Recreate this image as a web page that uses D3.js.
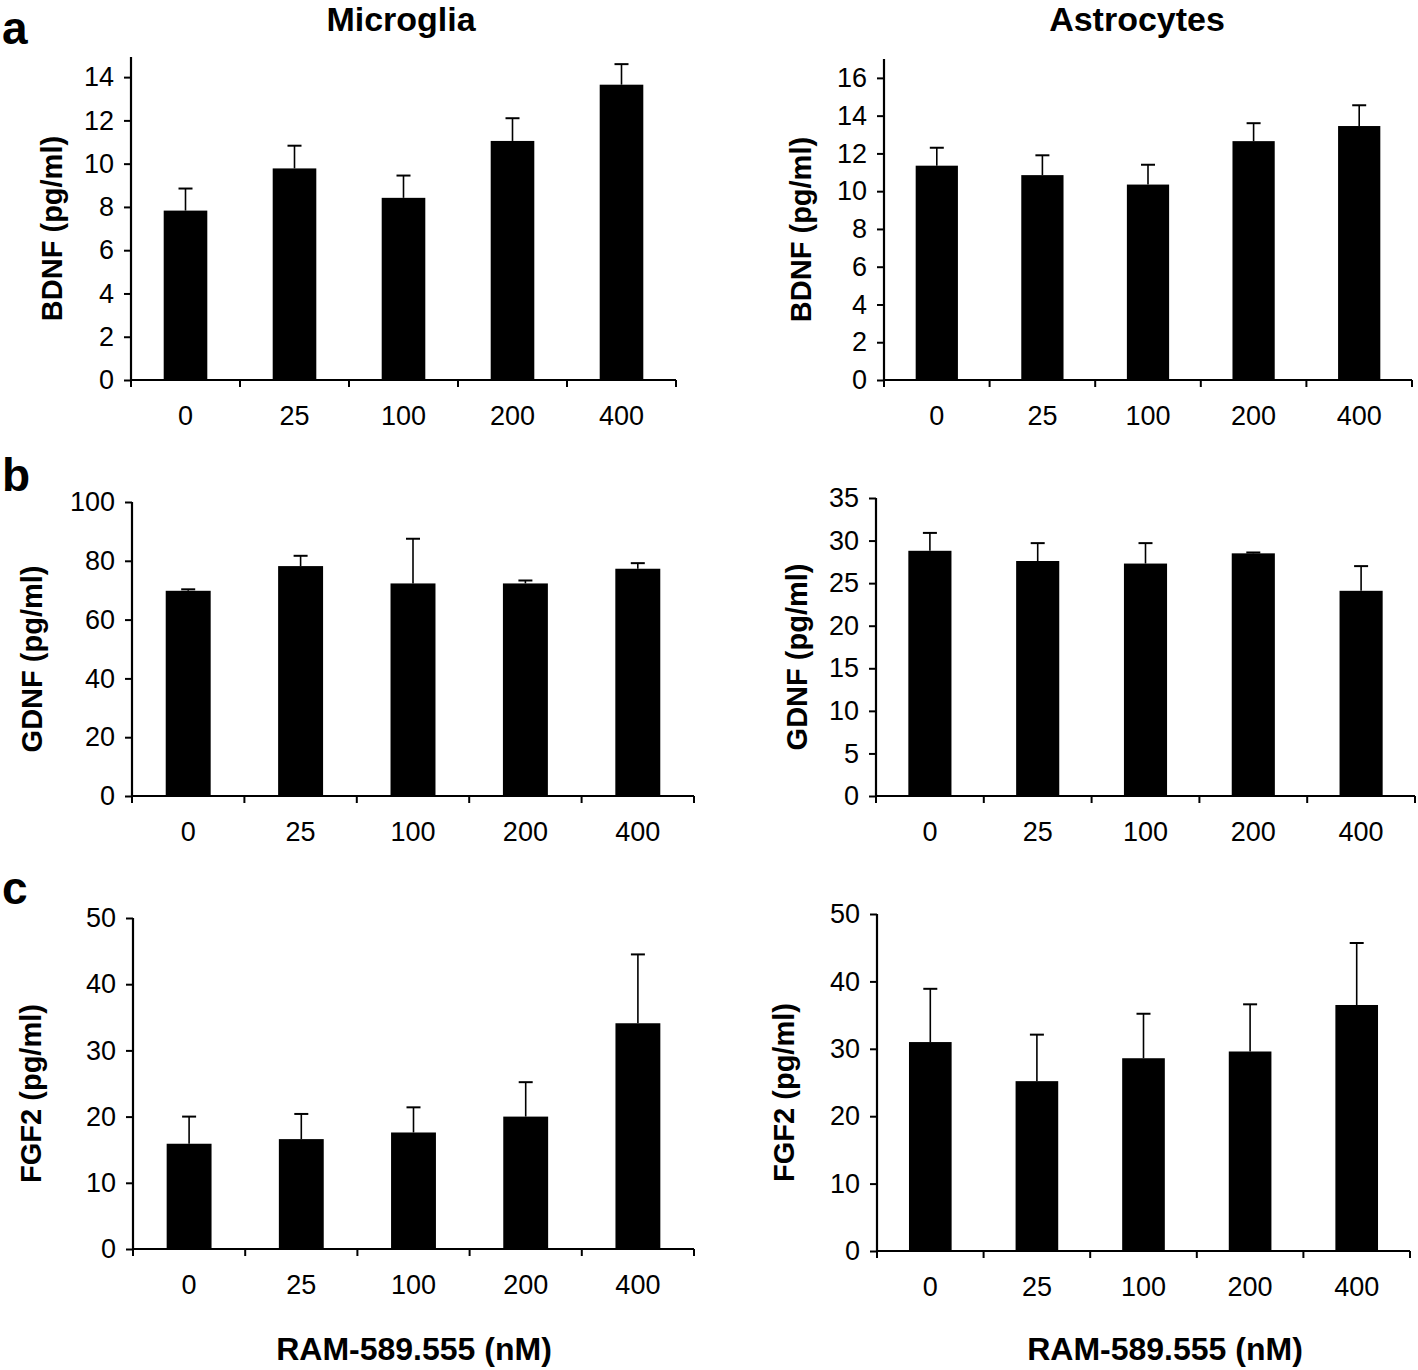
<!DOCTYPE html>
<html>
<head>
<meta charset="utf-8">
<script src="https://cdn.jsdelivr.net/npm/d3@7"></script>
<style>
  html, body { margin: 0; padding: 0; background: #fff; }
  svg { display: block; font-family: "Liberation Sans", Arial, Helvetica, sans-serif; }
</style>
</head>
<body>
<svg id="chart" width="1418" height="1370"></svg>
<script>
// ---- data ----
const categories = ["0", "25", "100", "200", "400"];

const bdnfMicroglia      = [7.83, 9.78, 8.42, 11.05, 13.65];
const bdnfMicrogliaErr   = [1.02, 1.05, 1.03, 1.05, 0.95];
const bdnfAstrocytes     = [11.35, 10.85, 10.35, 12.65, 13.45];
const bdnfAstrocytesErr  = [0.95, 1.05, 1.05, 0.95, 1.1];

const gdnfMicroglia      = [69.8, 78.2, 72.3, 72.3, 77.3];
const gdnfMicrogliaErr   = [0.5, 3.5, 15.2, 1.0, 1.9];
const gdnfAstrocytes     = [28.8, 27.6, 27.3, 28.5, 24.1];
const gdnfAstrocytesErr  = [2.1, 2.1, 2.4, 0.1, 2.9];

const fgf2Microglia      = [15.9, 16.6, 17.6, 20.0, 34.1];
const fgf2MicrogliaErr   = [4.1, 3.8, 3.8, 5.2, 10.4];
const fgf2Astrocytes     = [31.0, 25.2, 28.6, 29.6, 36.5];
const fgf2AstrocytesErr  = [7.9, 6.9, 6.6, 7.0, 9.2];

const bdnfMicrogliaTicks  = [0, 2, 4, 6, 8, 10, 12, 14];
const bdnfAstrocytesTicks = [0, 2, 4, 6, 8, 10, 12, 14, 16];
const gdnfMicrogliaTicks  = [0, 20, 40, 60, 80, 100];
const gdnfAstrocytesTicks = [0, 5, 10, 15, 20, 25, 30, 35];
const fgf2Ticks           = [0, 10, 20, 30, 40, 50];

const columnTitles = ["Microglia", "Astrocytes"];
const panelLetters = ["a", "b", "c"];
const xAxisTitle = "RAM-589.555 (nM)";

// ---- layout (positions only) ----
const panels = [
  { values: bdnfMicroglia, errs: bdnfMicrogliaErr, ticks: bdnfMicrogliaTicks, max: 14.93,
    left: 131, right: 676, bottom: 380, top: 57, label: "BDNF (pg/ml)", labelX: 52 },
  { values: bdnfAstrocytes, errs: bdnfAstrocytesErr, ticks: bdnfAstrocytesTicks, max: 17,
    left: 884, right: 1412, bottom: 380, top: 59, label: "BDNF (pg/ml)", labelX: 801 },
  { values: gdnfMicroglia, errs: gdnfMicrogliaErr, ticks: gdnfMicrogliaTicks, max: 100,
    left: 132, right: 694, bottom: 796, top: 502, label: "GDNF (pg/ml)", labelX: 32 },
  { values: gdnfAstrocytes, errs: gdnfAstrocytesErr, ticks: gdnfAstrocytesTicks, max: 35,
    left: 876, right: 1415, bottom: 796, top: 498, label: "GDNF (pg/ml)", labelX: 797 },
  { values: fgf2Microglia, errs: fgf2MicrogliaErr, ticks: fgf2Ticks, max: 50,
    left: 133, right: 694, bottom: 1249, top: 918, label: "FGF2 (pg/ml)", labelX: 31 },
  { values: fgf2Astrocytes, errs: fgf2AstrocytesErr, ticks: fgf2Ticks, max: 50,
    left: 877, right: 1410, bottom: 1251, top: 914, label: "FGF2 (pg/ml)", labelX: 784 }
];

const svg = d3.select("#chart");

panels.forEach(p => {
  const g = svg.append("g");
  const x = d3.scaleBand().domain(categories).range([p.left, p.right])
    .paddingInner(0.6).paddingOuter(0.3);
  const y = d3.scaleLinear().domain([0, p.max]).range([p.bottom, p.top]);
  const step = x.step();

  // bars
  g.selectAll("rect.bar").data(p.values).join("rect")
    .attr("class", "bar")
    .attr("x", (d, i) => x(categories[i]))
    .attr("width", x.bandwidth())
    .attr("y", d => y(d))
    .attr("height", d => y(0) - y(d))
    .attr("fill", "#000");

  // error bars (upper only)
  g.selectAll("line.err").data(p.values).join("line")
    .attr("class", "err")
    .attr("x1", (d, i) => x(categories[i]) + x.bandwidth() / 2)
    .attr("x2", (d, i) => x(categories[i]) + x.bandwidth() / 2)
    .attr("y1", d => y(d))
    .attr("y2", (d, i) => y(d + p.errs[i]))
    .attr("stroke", "#000").attr("stroke-width", 1.6);
  g.selectAll("line.cap").data(p.values).join("line")
    .attr("class", "cap")
    .attr("x1", (d, i) => x(categories[i]) + x.bandwidth() / 2 - 7)
    .attr("x2", (d, i) => x(categories[i]) + x.bandwidth() / 2 + 7)
    .attr("y1", (d, i) => y(d + p.errs[i]))
    .attr("y2", (d, i) => y(d + p.errs[i]))
    .attr("stroke", "#000").attr("stroke-width", 2);

  // y axis
  const yAxis = d3.axisLeft(y).tickValues(p.ticks).tickSize(7).tickPadding(10).tickFormat(d3.format("d"));
  const ya = g.append("g").attr("transform", `translate(${p.left},0)`).call(yAxis);
  ya.select(".domain").attr("d", `M0,${p.top}V${p.bottom}`).attr("stroke-width", 2.2);
  ya.selectAll(".tick line").attr("stroke-width", 2);
  ya.selectAll(".tick text").attr("font-size", 27).attr("fill", "#000")
    .attr("font-family", "'Liberation Sans', Arial, sans-serif");

  // x axis line with boundary ticks
  g.append("line").attr("x1", p.left).attr("x2", p.right)
    .attr("y1", y(0)).attr("y2", y(0)).attr("stroke", "#000").attr("stroke-width", 2.2);
  const bounds = d3.range(categories.length + 1).map(i => p.left + i * step);
  g.selectAll("line.xt").data(bounds).join("line")
    .attr("class", "xt")
    .attr("x1", d => d).attr("x2", d => d)
    .attr("y1", y(0)).attr("y2", y(0) + 7)
    .attr("stroke", "#000").attr("stroke-width", 2);
  g.selectAll("text.xl").data(categories).join("text")
    .attr("class", "xl")
    .attr("x", d => x(d) + x.bandwidth() / 2)
    .attr("y", y(0) + 45)
    .attr("text-anchor", "middle")
    .attr("font-size", 27)
    .text(d => d);

  // y axis title
  g.append("text")
    .attr("transform", `translate(${p.labelX + 10},${(p.top + p.bottom) / 2 + 10}) rotate(-90)`)
    .attr("text-anchor", "middle")
    .attr("font-size", 29)
    .attr("font-weight", "bold")
    .text(p.label);
});

// column titles
svg.append("text").attr("x", 401).attr("y", 31).attr("text-anchor", "middle")
  .attr("font-size", 34).attr("font-weight", "bold").text(columnTitles[0]);
svg.append("text").attr("x", 1137).attr("y", 31).attr("text-anchor", "middle")
  .attr("font-size", 34).attr("font-weight", "bold").text(columnTitles[1]);

// panel letters
const letterY = [44, 491, 904];
panelLetters.forEach((l, i) => {
  svg.append("text").attr("x", 2).attr("y", letterY[i])
    .attr("font-size", 46).attr("font-weight", "bold").text(l);
});

// bottom x titles
svg.append("text").attr("x", 414).attr("y", 1360).attr("text-anchor", "middle")
  .attr("font-size", 32).attr("font-weight", "bold").text(xAxisTitle);
svg.append("text").attr("x", 1165).attr("y", 1360).attr("text-anchor", "middle")
  .attr("font-size", 32).attr("font-weight", "bold").text(xAxisTitle);
</script>
</body>
</html>
